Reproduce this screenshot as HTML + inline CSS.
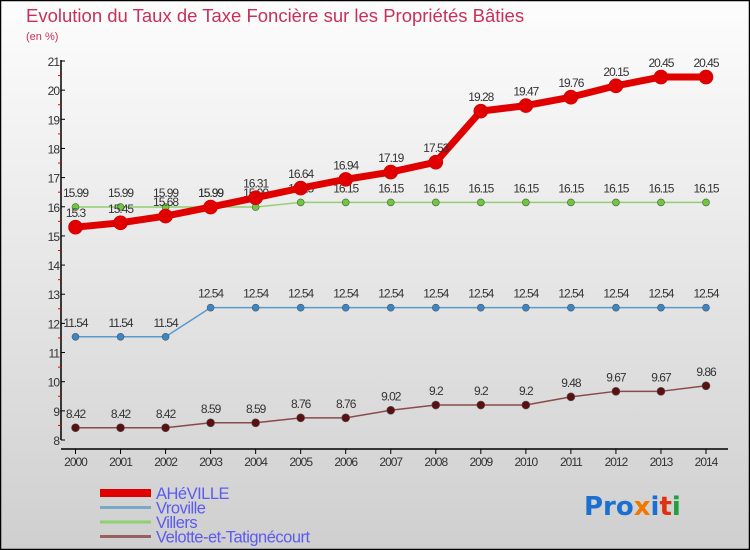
<!DOCTYPE html>
<html><head><meta charset="utf-8"><style>
body{margin:0;width:750px;height:550px;overflow:hidden;font-family:"Liberation Sans",sans-serif}
svg{display:block}
</style></head><body>
<svg id="chart" width="750" height="550" xmlns="http://www.w3.org/2000/svg">
<defs><linearGradient id="bg" x1="0" y1="0" x2="0" y2="1"><stop offset="0" stop-color="#fdfdfd"/><stop offset="1" stop-color="#cfcfcf"/></linearGradient></defs>
<rect x="0.5" y="0.5" width="749" height="549" fill="url(#bg)" stroke="#000" stroke-width="1.5"/>
<text x="26" y="22" font-size="18.5" fill="#c8305a">Evolution du Taux de Taxe Foncière sur les Propriétés Bâties</text>
<text x="26" y="40" font-size="11" fill="#c8305a">(en %)</text>
<g id="axes"></g>
<g id="series"></g>
<g id="legend"></g>
<text x="584" y="515" font-size="26" font-weight="bold" font-family="'DejaVu Sans',sans-serif"><tspan fill="#1a6fd0">Pro</tspan><tspan fill="#f07800">x</tspan><tspan fill="#1a6fd0">i</tspan><tspan fill="#e03010">t</tspan><tspan fill="#20a040">i</tspan></text>
</svg>
<script>
const years=["2000","2001","2002","2003","2004","2005","2006","2007","2008","2009","2010","2011","2012","2013","2014"];
const aheville=[15.3,15.45,15.68,15.99,16.31,16.64,16.94,17.19,17.53,19.28,19.47,19.76,20.15,20.45,20.45];
const vroville=[11.54,11.54,11.54,12.54,12.54,12.54,12.54,12.54,12.54,12.54,12.54,12.54,12.54,12.54,12.54];
const villers=[15.99,15.99,15.99,15.99,15.99,16.15,16.15,16.15,16.15,16.15,16.15,16.15,16.15,16.15,16.15];
const velotte=[8.42,8.42,8.42,8.59,8.59,8.76,8.76,9.02,9.2,9.2,9.2,9.48,9.67,9.67,9.86];
const yTicks=[8,9,10,11,12,13,14,15,16,17,18,19,20,21];
const seriesNames=["AHéVILLE","Vroville","Villers","Velotte-et-Tatignécourt"];
const NS="http://www.w3.org/2000/svg";
const x=i=>75.5+i*(706-75.5)/(years.length-1);
const y=v=>440-(v-8)*(440-61)/13;
function mk(tag,attrs,parent){const e=document.createElementNS(NS,tag);for(const k in attrs)e.setAttribute(k,attrs[k]);parent.appendChild(e);return e;}
const axes=document.getElementById('axes');
let yl=mk('line',{x1:61,y1:60,x2:61,y2:440,stroke:'#000','stroke-width':1.5},axes);


let xl=mk('line',{x1:61,y1:449,x2:728,y2:449,stroke:'#000','stroke-width':1.5},axes);


yTicks.forEach(v=>{
  mk('line',{x1:61,y1:y(v),x2:65,y2:y(v),stroke:'#000'},axes);
  if(v<21)mk('line',{x1:58,y1:y(v+0.5),x2:61,y2:y(v+0.5),stroke:'#e00'},axes);
  const t=mk('text',{x:59,y:y(v)+5,'text-anchor':'end','font-size':12,fill:'#333','letter-spacing':'-1'},axes);
  t.textContent=v;
  
  
});
years.forEach((yr,i)=>{
  mk('line',{x1:x(i),y1:449,x2:x(i),y2:454,stroke:'#000'},axes);
  const t=mk('text',{x:x(i),y:466,'text-anchor':'middle','font-size':12,fill:'#333','letter-spacing':'-1'},axes);
  t.textContent=yr;
  
  
});
const ser=document.getElementById('series');
function draw(vals,color,lw,r,ptColor,name){
  const g=mk('g',{},ser);
  
  
  const pl=mk('polyline',{points:vals.map((v,i)=>x(i)+','+y(v)).join(' '),fill:'none',stroke:color,'stroke-width':lw,'stroke-linejoin':'round'},g);
  
  
  vals.forEach((v,i)=>{
    const c=mk('circle',{cx:x(i),cy:y(v),r:r,fill:ptColor,stroke:color==='#e00000'?'#c00':'#555','stroke-width':0.6},g);
    
    
    const t=mk('text',{x:x(i),y:y(v)-10,'text-anchor':'middle','font-size':12,fill:'#333','letter-spacing':'-1'},g);
    t.textContent=v;
    
    
  });
}
draw(velotte,'#8a4a4a',1.5,4,'#5a1010','velotte');
draw(vroville,'#5a9acb',1.5,3.5,'#3a86c8','vroville');
draw(villers,'#90d070',1.5,3.5,'#6cc93a','villers');
draw(aheville,'#e00000',7,7,'#e00000','aheville');
const lg=document.getElementById('legend');
const lcol=['#e00000','#7aa8c8','#90d070','#9a6060'];
const lw=[8,3,3,3];
seriesNames.forEach((n,i)=>{
  const yy=493+i*14.5;
  const g=mk('g',{},lg);
  
  
  mk('line',{x1:100,y1:yy,x2:151,y2:yy,stroke:lcol[i],'stroke-width':lw[i]},g);
  const t=mk('text',{x:156,y:yy+6,'font-size':16.5,fill:'#5b5bf0','letter-spacing':'-0.5'},g);
  t.textContent=n;
});
</script>
</body></html>
